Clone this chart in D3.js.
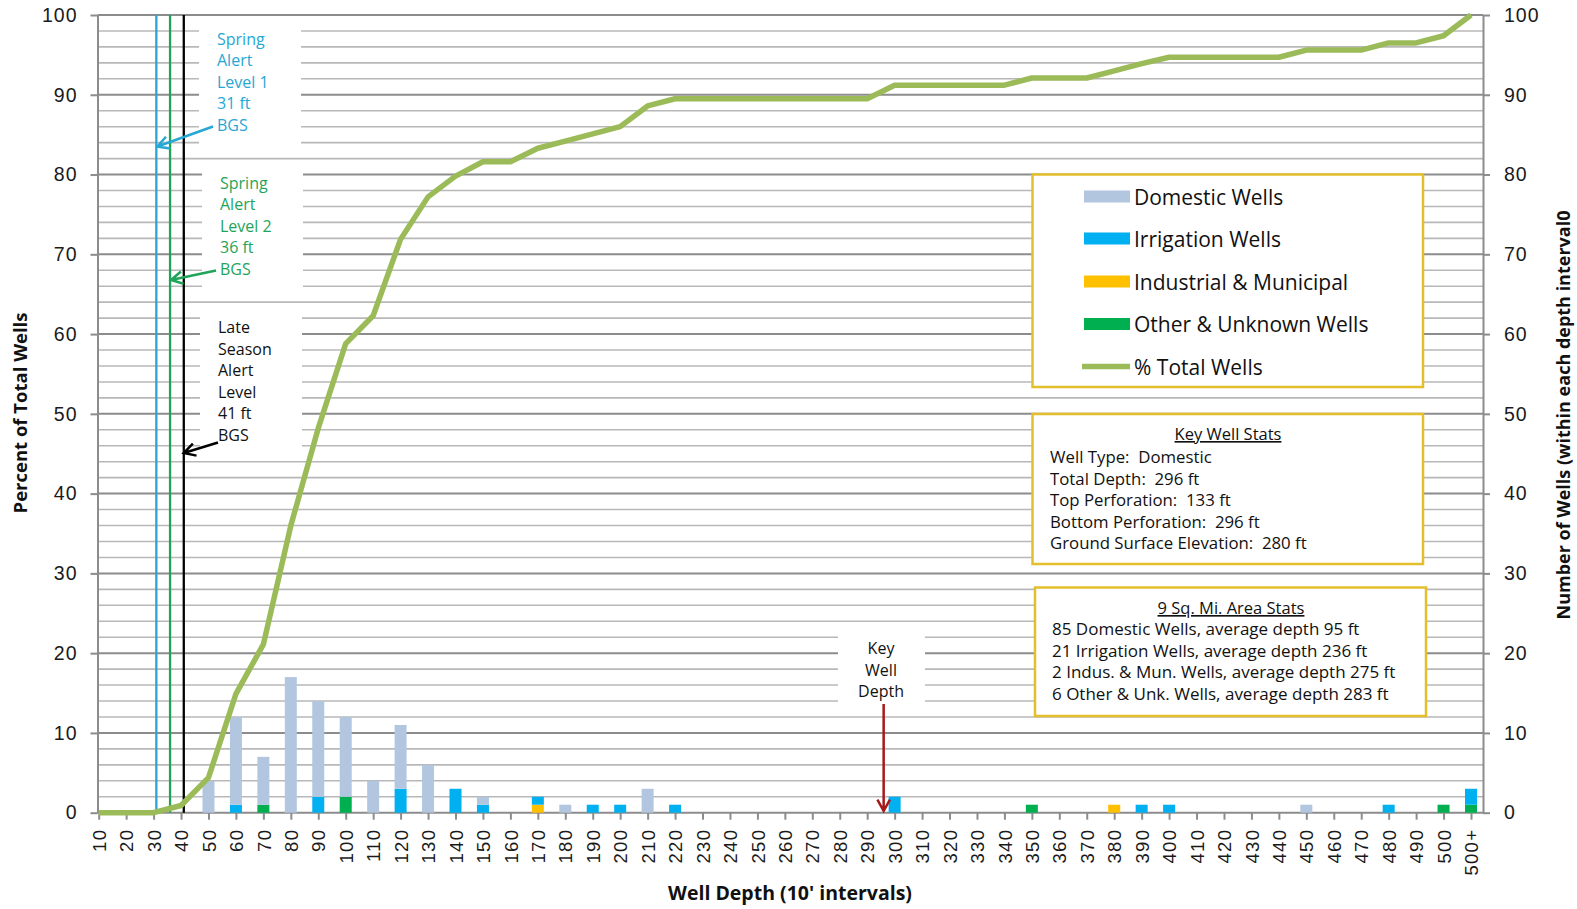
<!DOCTYPE html>
<html><head><meta charset="utf-8">
<script src="https://cdn.jsdelivr.net/npm/d3@7"></script>
<style>
body{margin:0;background:#fff;}
svg{display:block;font-family:"Open Sans",sans-serif;}
</style>
</head><body>
<svg id="chart" width="1577" height="909"></svg>
<script>
// ---------------- DATA ----------------
const categories = ["10","20","30","40","50","60","70","80","90","100",
  "110","120","130","140","150","160","170","180","190","200",
  "210","220","230","240","250","260","270","280","290","300",
  "310","320","330","340","350","360","370","380","390","400",
  "410","420","430","440","450","460","470","480","490","500","500+"];
const domestic   = [0,0,0,0,4,11,6,17,12,10, 4,8,6,0,1,0,0,1,0,0, 3,0,0,0,0,0,0,0,0,0, 0,0,0,0,0,0,0,0,0,0, 0,0,0,0,1,0,0,0,0,0, 0];
const irrigation = [0,0,0,0,0,1,0,0,2,0, 0,3,0,3,1,0,1,0,1,1, 0,1,0,0,0,0,0,0,0,2, 0,0,0,0,0,0,0,0,1,1, 0,0,0,0,0,0,0,1,0,0, 2];
const industrial = [0,0,0,0,0,0,0,0,0,0, 0,0,0,0,0,0,1,0,0,0, 0,0,0,0,0,0,0,0,0,0, 0,0,0,0,0,0,0,1,0,0, 0,0,0,0,0,0,0,0,0,0, 0];
const other      = [0,0,0,0,0,0,1,0,0,2, 0,0,0,0,0,0,0,0,0,0, 0,0,0,0,0,0,0,0,0,0, 0,0,0,0,1,0,0,0,0,0, 0,0,0,0,0,0,0,0,0,1, 1];
const pctTotal   = [0,0,0,0.9,4.4,14.9,21.1,36,48.2,58.8, 62.3,71.9,77.2,79.8,81.6,81.6,83.3,84.2,85.1,86,
  88.6,89.5,89.5,89.5,89.5,89.5,89.5,89.5,89.5,91.2, 91.2,91.2,91.2,91.2,92.1,92.1,92.1,93,93.9,94.7,
  94.7,94.7,94.7,94.7,95.6,95.6,95.6,96.5,96.5,97.4,100];
const yTicks = [0,10,20,30,40,50,60,70,80,90,100];
const alertDepths = [31, 36, 41];
const alertLabels = [["Spring","Alert","Level 1","31 ft","BGS"],["Spring","Alert","Level 2","36 ft","BGS"],["Late","Season","Alert","Level","41 ft","BGS"]];
const keyWellDepth = 296;
const keyWellLabel = ["Key","Well","Depth"];
const seriesNames = ["Domestic Wells","Irrigation Wells","Industrial & Municipal","Other & Unknown Wells","% Total Wells"];
const keyStatsTitle = "Key Well Stats";
const keyStats = ["Well Type:  Domestic","Total Depth:  296 ft","Top Perforation:  133 ft","Bottom Perforation:  296 ft","Ground Surface Elevation:  280 ft"];
const areaStatsTitle = "9 Sq. Mi. Area Stats";
const areaStats = ["85 Domestic Wells, average depth 95 ft","21 Irrigation Wells, average depth 236 ft","2 Indus. & Mun. Wells, average depth 275 ft","6 Other & Unk. Wells, average depth 283 ft"];

// ---------------- STYLE ----------------
const C = {dom:"#b3c6e0", irr:"#00b0f0", ind:"#ffc000", oth:"#00b050", line:"#9bbb59",
  grid:"#b8b8b8", major:"#8c8c8c", gold:"#e3bf2c", cyan:"#27a7d3", green:"#1fa45a", red:"#a61919"};

const svg = d3.select("#chart");
const M = {left:97.5, right:1483, top:15, bottom:812.7};
const x = d3.scalePoint().domain(categories).range([98.7, 1471]);
const xDepth = d3.scaleLinear().domain([10, 500]).range([x("10"), x("500")]);
const y = d3.scaleLinear().domain([0,100]).range([M.bottom, M.top]);
const yR = d3.scaleLinear().domain([0,100]).range([M.bottom, M.top]);

// gridlines
svg.append("g").selectAll("line").data(d3.range(2,101,2)).join("line")
  .attr("x1",M.left).attr("x2",M.right)
  .attr("y1",d=>y(d)).attr("y2",d=>y(d))
  .attr("stroke",d=>d%10===0?C.major:C.grid)
  .attr("stroke-width",d=>d%10===0?2:1.6);

// white annotation boxes (cover gridlines)
const boxes = [[199,17,301,157],[202,160,303,301],[200,305,302,458],[838,634,925,704]];
svg.append("g").selectAll("rect").data(boxes).join("rect")
  .attr("x",d=>d[0]).attr("y",d=>d[1]).attr("width",d=>d[2]-d[0]).attr("height",d=>d[3]-d[1])
  .attr("fill","#fff");

// axes
function styleAxis(g){
  g.selectAll(".domain").attr("stroke",C.major).attr("stroke-width",2);
  g.selectAll(".tick line").attr("stroke",C.major).attr("stroke-width",2);
  g.selectAll("text").attr("fill","#1a1a1a");
}
const gL = svg.append("g").attr("transform",`translate(${M.left},0)`)
  .call(d3.axisLeft(y).tickValues(yTicks).tickSize(7).tickSizeOuter(0).tickPadding(13));
gL.selectAll("text").style("font-size","19.5px").style("letter-spacing","1px");
styleAxis(gL);
const gR = svg.append("g").attr("transform",`translate(${M.right},0)`)
  .call(d3.axisRight(yR).tickValues(yTicks).tickSize(7).tickSizeOuter(0).tickPadding(14));
gR.selectAll("text").style("font-size","19.5px").style("letter-spacing","1px");
styleAxis(gR);
const gB = svg.append("g").attr("transform",`translate(0,${M.bottom})`)
  .call(d3.axisBottom(x).tickSize(7).tickSizeOuter(0));
gB.select(".domain").attr("d",`M${M.left},0H${M.right}`);
gB.selectAll("text").attr("transform","rotate(-90)").attr("text-anchor","end")
  .attr("x",-16).attr("y",0).attr("dy","0.36em").style("font-size","18.5px").style("letter-spacing","1.3px");
styleAxis(gB);

// axis titles
svg.append("text").attr("transform","translate(19,413) rotate(-90)").attr("text-anchor","middle")
  .attr("dominant-baseline","central").style("font-size","18.5px").style("font-weight","bold").attr("fill","#111")
  .text("Percent of Total Wells");
svg.append("text").attr("transform","translate(1563,415) rotate(-90)").attr("text-anchor","middle")
  .attr("dominant-baseline","central").style("font-size","18px").style("font-weight","bold").attr("fill","#111")
  .text("Number of Wells (within each depth interval0");
svg.append("text").attr("x",790).attr("y",892).attr("text-anchor","middle")
  .attr("dominant-baseline","central").style("font-size","19.5px").style("font-weight","bold").attr("fill","#111")
  .text("Well Depth (10' intervals)");

// stacked bars
const table = categories.map((c,i)=>({cat:c, other:other[i], industrial:industrial[i], irrigation:irrigation[i], domestic:domestic[i]}));
const keys = ["other","industrial","irrigation","domestic"];
const colors = {other:C.oth, industrial:C.ind, irrigation:C.irr, domestic:C.dom};
const stacked = d3.stack().keys(keys)(table);
const bw = 12;
svg.append("g").selectAll("g").data(stacked).join("g").attr("fill",s=>colors[s.key])
  .selectAll("rect").data(s=>s.filter(d=>d[1]>d[0])).join("rect")
  .attr("x",d=>x(d.data.cat)-bw/2).attr("width",bw)
  .attr("y",d=>yR(d[1])).attr("height",d=>yR(d[0])-yR(d[1]));

// alert vertical lines
const alertColors = [C.cyan, C.green, "#000"];
svg.append("g").selectAll("line").data(alertDepths).join("line")
  .attr("x1",d=>xDepth(d)).attr("x2",d=>xDepth(d)).attr("y1",M.top).attr("y2",M.bottom)
  .attr("stroke",(d,i)=>alertColors[i]).attr("stroke-width",2.3);

// cumulative line
svg.append("path").datum(pctTotal)
  .attr("d",d3.line().x((d,i)=>x(categories[i])).y(d=>y(d)))
  .attr("fill","none").attr("stroke",C.line).attr("stroke-width",5.5)
  .attr("stroke-linejoin","round");

// arrows
function arrow(x1,y1,x2,y2,color,w){
  const a = Math.atan2(y2-y1,x2-x1), L=13, s=0.5;
  const p = `M${x1},${y1}L${x2},${y2}M${x2-L*Math.cos(a-s)},${y2-L*Math.sin(a-s)}L${x2},${y2}L${x2-L*Math.cos(a+s)},${y2-L*Math.sin(a+s)}`;
  svg.append("path").attr("d",p).attr("fill","none").attr("stroke",color).attr("stroke-width",w);
}
arrow(213,126.5, xDepth(31)+1,146.5, C.cyan, 2.5);
arrow(216,270.5, xDepth(36)+1,280, C.green, 2.5);
arrow(218,442.5, xDepth(41)+0,453, "#000", 2.5);
arrow(xDepth(keyWellDepth),704, xDepth(keyWellDepth),811, C.red, 2.5);

// alert texts
const alertText = [{x:217,y0:44.5,c:C.cyan},{x:220,y0:188.5,c:C.green},{x:218,y0:333,c:"#111"}];
alertLabels.forEach((lines,k)=>{
  svg.append("g").selectAll("text").data(lines).join("text")
    .attr("x",alertText[k].x).attr("y",(d,i)=>alertText[k].y0+i*21.6)
    .attr("fill",alertText[k].c).style("font-size","16px").text(d=>d);
});
svg.append("g").selectAll("text").data(keyWellLabel).join("text")
  .attr("x",881).attr("y",(d,i)=>654+i*21.6).attr("text-anchor","middle")
  .attr("fill","#111").style("font-size","16px").text(d=>d);

// legend
svg.append("rect").attr("x",1032.5).attr("y",174.5).attr("width",390.5).attr("height",212.5)
  .attr("fill","#fff").attr("stroke",C.gold).attr("stroke-width",2.5);
const legColors = [C.dom,C.irr,C.ind,C.oth];
const legY = [196.5,238.5,281.5,324,366.5];
seriesNames.forEach((n,i)=>{
  if(i<4){
    svg.append("rect").attr("x",1084).attr("y",legY[i]-6).attr("width",46).attr("height",12).attr("fill",legColors[i]);
  } else {
    svg.append("line").attr("x1",1082).attr("x2",1130).attr("y1",legY[i]).attr("y2",legY[i])
      .attr("stroke",C.line).attr("stroke-width",5.5);
  }
  svg.append("text").attr("x",1134).attr("y",legY[i]).attr("dominant-baseline","central")
    .attr("fill","#111").style("font-size","21px").text(n);
});

// stats boxes
function statsBox(x0,y0,x1,y1,title,tx,ty,lines,lx,ly,fs){
  svg.append("rect").attr("x",x0).attr("y",y0).attr("width",x1-x0).attr("height",y1-y0)
    .attr("fill","#fff").attr("stroke",C.gold).attr("stroke-width",2.5);
  svg.append("text").attr("x",tx).attr("y",ty).attr("text-anchor","middle")
    .style("font-size","16.5px").style("text-decoration","underline").attr("fill","#111").text(title);
  svg.append("g").selectAll("text").data(lines).join("text")
    .attr("x",lx).attr("y",(d,i)=>ly+i*21.5).style("font-size",fs).style("white-space","pre")
    .attr("fill","#111").text(d=>d);
}
statsBox(1032.5,414,1423,564,keyStatsTitle,1228,440,keyStats,1050,463,"16.8px");
statsBox(1035,587.5,1426,716,areaStatsTitle,1231,614,areaStats,1052,635,"17px");
</script>
</body></html>
